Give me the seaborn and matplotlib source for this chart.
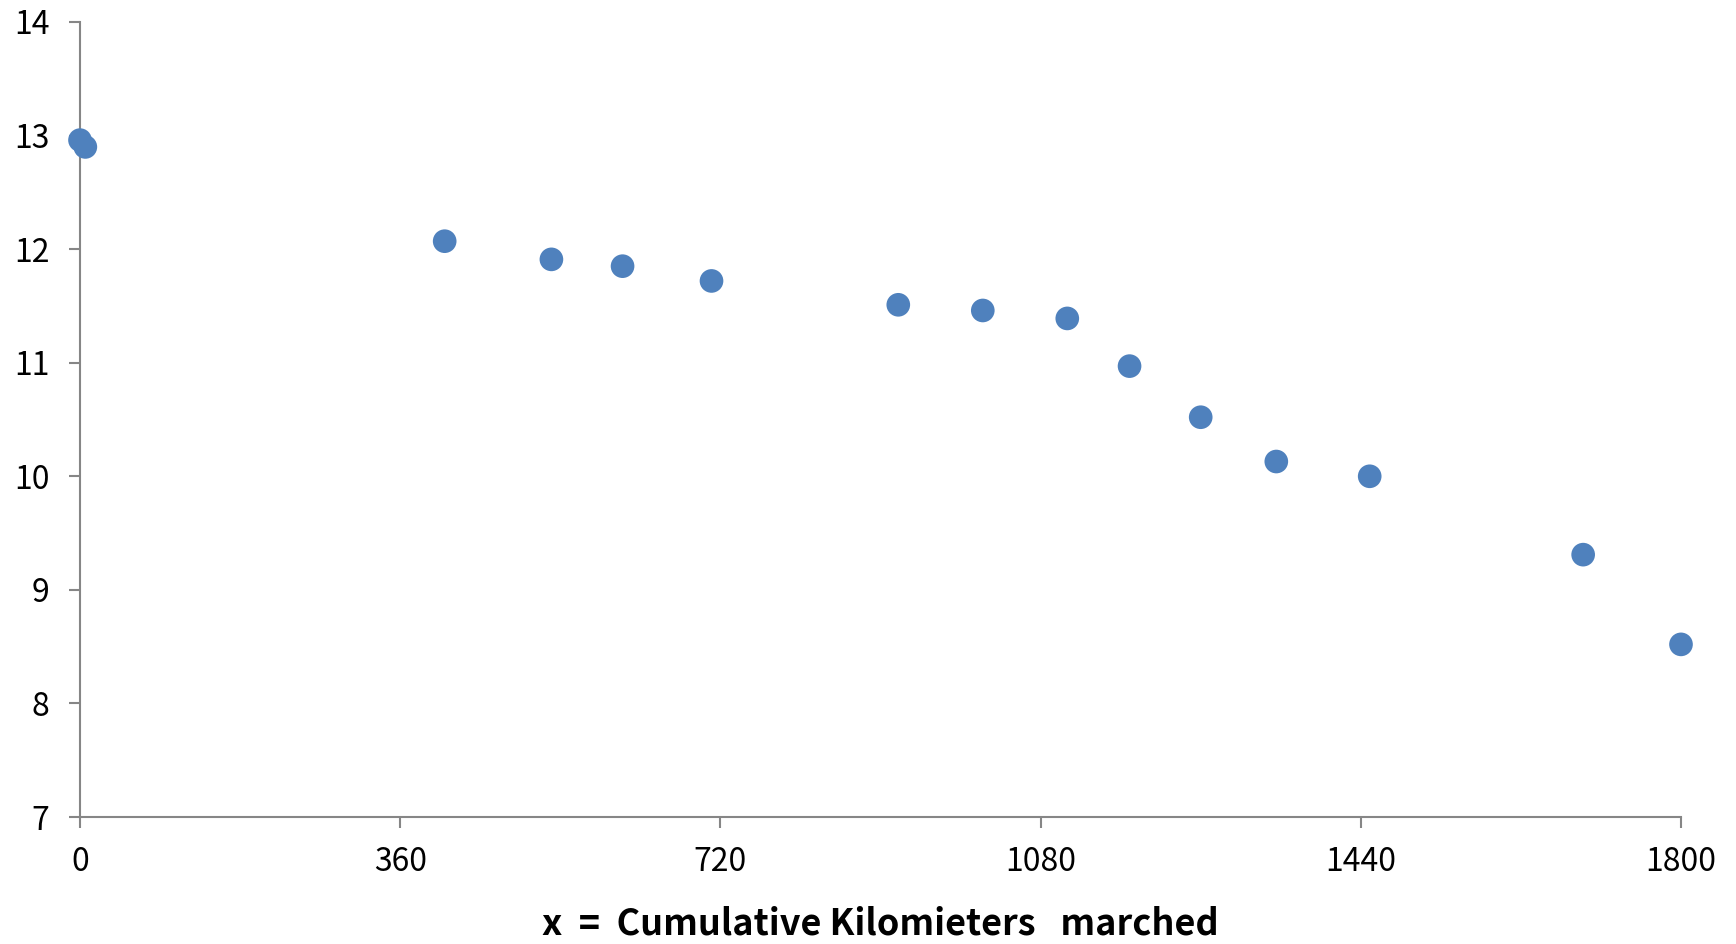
import matplotlib
matplotlib.use("Agg")
import matplotlib.pyplot as plt
import seaborn as sns
import pandas as pd

km_marched = [0, 6, 410, 530, 610, 710, 920, 1015, 1110, 1180, 1260, 1345, 1450, 1690, 1800]
values = [12.96, 12.90, 12.07, 11.91, 11.85, 11.72, 11.51, 11.46, 11.39, 10.97, 10.52, 10.13, 10.00, 9.31, 8.52]
x_ticks = [0, 360, 720, 1080, 1440, 1800]
y_ticks = [7, 8, 9, 10, 11, 12, 13, 14]
x_label = "x  =  Cumulative Kilomieters   marched"

sns.set_theme(style="white")
plt.rcParams['font.family'] = ['Noto Sans CJK KR', 'DejaVu Sans']

df = pd.DataFrame({"km": km_marched, "val": values})

fig = plt.figure(figsize=(17.36, 9.44), dpi=100)
ax = fig.add_axes([80/1736, 1-817/944, (1681-80)/1736, (817-22)/944])

sns.scatterplot(data=df, x="km", y="val", ax=ax, s=290, color="#4F81BD",
                edgecolor="none", linewidth=0, clip_on=False, zorder=3)

ax.set_xlim(0, 1800)
ax.set_ylim(7, 14)
ax.set_xticks(x_ticks)
ax.set_yticks(y_ticks)
ax.set_xticklabels([str(t) for t in x_ticks])
ax.set_yticklabels([str(t) for t in y_ticks])

for side in ["top", "right"]:
    ax.spines[side].set_visible(False)
for side in ["left", "bottom"]:
    ax.spines[side].set_color("#868686")
    ax.spines[side].set_linewidth(1.5)

ax.tick_params(axis="both", which="major", direction="out", length=8, width=1.5,
               color="#868686", labelsize=23, labelcolor="black",
               bottom=True, left=True)
ax.tick_params(axis="x", pad=13)
ax.tick_params(axis="y", pad=14)
ax.grid(False)

ax.set_ylabel("")
ax.set_xlabel(x_label, fontsize=26, fontweight="bold", color="black", labelpad=20)

fig.savefig("out.png", dpi=100)
